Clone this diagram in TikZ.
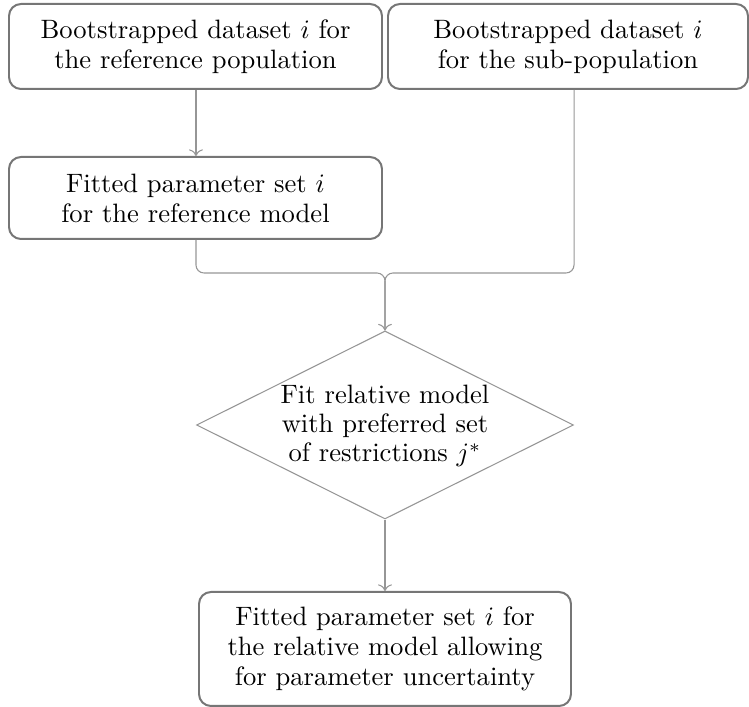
\documentclass[tikz,border=0pt]{standalone}
\usetikzlibrary{shapes.geometric,arrows.meta}
\def\pxu{0.376pt}
\definecolor{boxgray}{RGB}{118,118,118}
\definecolor{linegray}{RGB}{150,150,150}
\tikzset{
  stepbox/.style={draw=boxgray, line width=0.75pt, rounded corners=12*\pxu, align=center, inner sep=0pt, font=\fontsize{10pt}{11.3pt}\selectfont},
  decide/.style={draw=linegray, line width=0.4pt, diamond, inner sep=0pt},
  decidetext/.style={align=center, inner sep=0pt, font=\fontsize{10pt}{11pt}\selectfont},
  conn/.style={draw=linegray, line width=0.4pt},
}
\begin{document}
\begin{tikzpicture}[x=0.376pt, y=-0.376pt]
\useasboundingbox (0,0) rectangle (749,707);
\node[stepbox, minimum width=373*\pxu, minimum height=85*\pxu] (A) at (195.5,46.5) {Bootstrapped dataset $i$ for\\the reference population};
\node[stepbox, minimum width=360*\pxu, minimum height=85*\pxu] (B) at (568,46.5) {Bootstrapped dataset $i$\\for the sub-population};
\node[stepbox, minimum width=373*\pxu, minimum height=82*\pxu] (C) at (195.5,198) {Fitted parameter set $i$\\for the reference model};
\node[decide, minimum width=377*\pxu, minimum height=188*\pxu] (D) at (385,425) {};
\node[decidetext] (Dt) at (385,426) {Fit relative model\\with preferred set\\of restrictions $j^{*}$};
\node[stepbox, minimum width=372*\pxu, minimum height=114*\pxu] (E) at (385,649) {Fitted parameter set $i$ for\\the relative model allowing\\for parameter uncertainty};
\coordinate (J) at (385,273);
\coordinate (Bs) at (D.east |- B.south);
\coordinate (Cs) at (D.west |- C.south);
\coordinate (As) at (D.west |- A.south);
\draw[conn, ->] (As) -- (As |- C.north);
\draw[conn, rounded corners=8*\pxu] (Cs) |- (J) -- (J |- D.north);
\draw[conn, rounded corners=8*\pxu, ->] (Bs) |- (J) -- (D.north);
\draw[conn, ->] (D.south) -- (E.north);
\end{tikzpicture}
\end{document}
